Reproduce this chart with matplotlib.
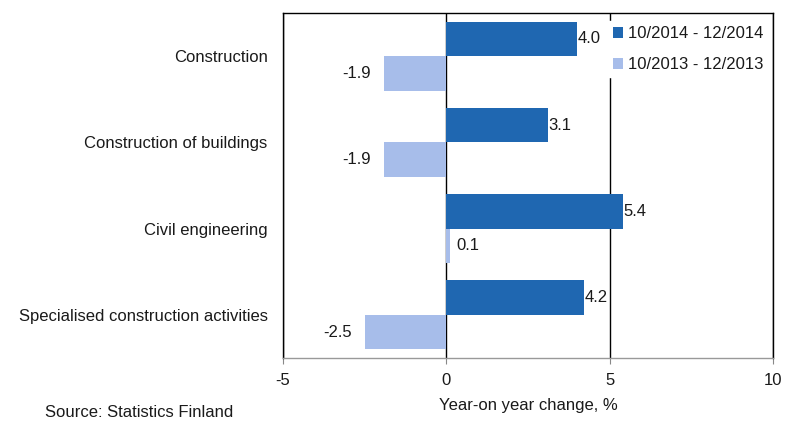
import matplotlib
matplotlib.use("Agg")
import matplotlib.pyplot as plt
import numpy as np

plt.rcParams['font.family'] = ['Liberation Sans', 'DejaVu Sans']

categories = ["Construction", "Construction of buildings", "Civil engineering",
              "Specialised construction activities"]
series_2014 = [4.0, 3.1, 5.4, 4.2]
series_2013 = [-1.9, -1.9, 0.1, -2.5]
labels = ["10/2014 - 12/2014", "10/2013 - 12/2013"]
xticks = [-5, 0, 5, 10]

dark = "#1F67B1"
light = "#A7BDEA"
tc = "#1a1a1a"

fig = plt.figure(figsize=(7.86, 4.23), dpi=100)
ax = fig.add_axes([283/786, 1-358/423, 490/786, 345/423])

y = np.arange(len(categories))
h = 0.4
b1 = ax.barh(y - h/2, series_2014, height=h, color=dark, label=labels[0], zorder=3)
b2 = ax.barh(y + h/2, series_2013, height=h, color=light, label=labels[1], zorder=3)

fs = 12
for yi, v in zip(y, series_2014):
    ax.text(v + 0.02, yi - h/2, f"{v:.1f}", va="center",
            ha="left", fontsize=fs, color=tc, zorder=4)
for yi, v in zip(y, series_2013):
    if v >= 0:
        ax.text(v + 0.2, yi + h/2, f"{v:.1f}", va="center", ha="left", fontsize=fs, color=tc, zorder=4)
    else:
        ax.text(v - 0.4, yi + h/2, f"{v:.1f}", va="center", ha="right", fontsize=fs, color=tc, zorder=4)

ax.set_xlim(-5, 10)
ax.set_ylim(3.5, -0.5)
ax.set_xticks(xticks)
ax.set_xticklabels([str(t) for t in xticks], fontsize=fs, color=tc)
ax.set_yticks(y)
ax.set_yticklabels(categories, fontsize=fs, color=tc)
ax.tick_params(axis='y', length=0, pad=11)
ax.tick_params(axis='x', length=4, width=0.8, direction='out', color='#888888', pad=7)
ax.grid(axis='x', color='black', linewidth=1.0)
for s in ['top', 'left', 'right']:
    ax.spines[s].set_color('black')
    ax.spines[s].set_linewidth(1.0)
ax.spines['bottom'].set_color('#999999')
ax.spines['bottom'].set_linewidth(1.0)
ax.set_xlabel("Year-on year change, %", fontsize=fs, labelpad=7, color=tc)

leg = ax.legend(loc='upper left', bbox_to_anchor=(0.647, 1.0), frameon=True, fancybox=False,
                edgecolor='white', framealpha=1, fontsize=fs, handlelength=0.6, handleheight=0.6,
                handletextpad=0.3, labelspacing=0.95, borderpad=0.3)
leg.set_zorder(2)
for t in leg.get_texts():
    t.set_color(tc)

fig.text(45/786, 1-412/423, "Source: Statistics Finland", fontsize=fs, va="center", ha="left", color=tc)

fig.savefig("out.png", dpi=100)
